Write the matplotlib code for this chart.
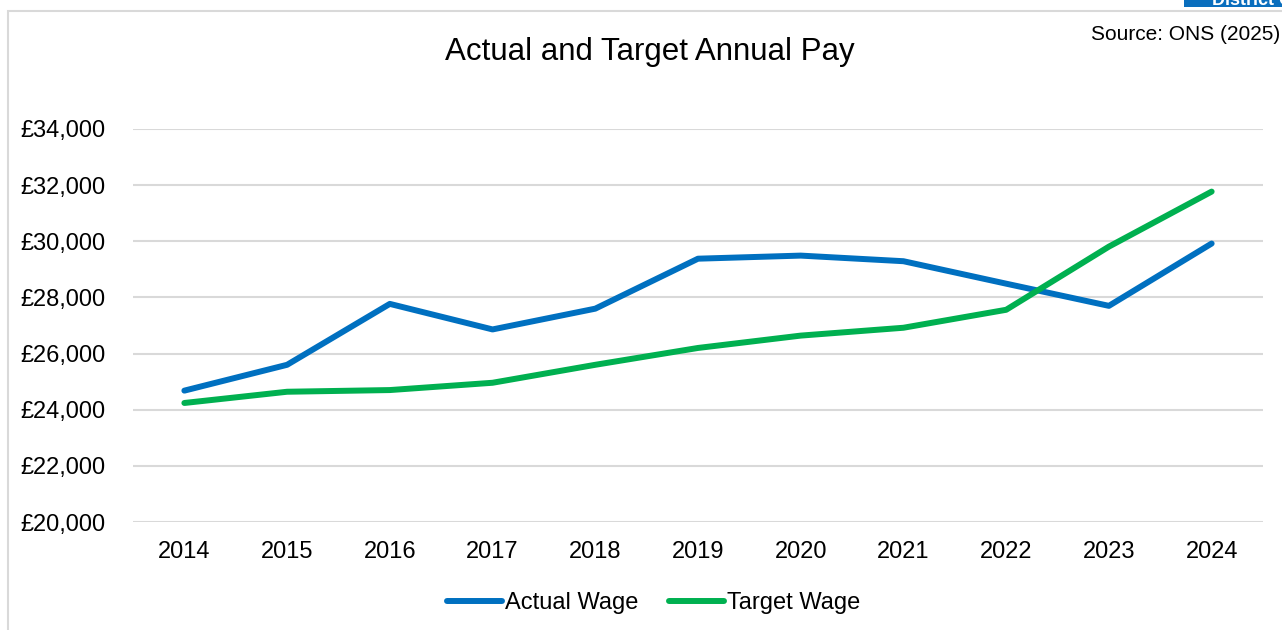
import matplotlib
matplotlib.use("Agg")
import matplotlib.pyplot as plt
from matplotlib.patches import Rectangle
from matplotlib.ticker import FuncFormatter

years = ["2014", "2015", "2016", "2017", "2018", "2019", "2020", "2021", "2022", "2023", "2024"]
actual_wage = [24680, 25600, 27770, 26860, 27600, 29380, 29490, 29290, 28490, 27700, 29920]
target_wage = [24240, 24640, 24700, 24960, 25600, 26200, 26640, 26920, 27560, 29810, 31770]
y_ticks = [20000, 22000, 24000, 26000, 28000, 30000, 32000, 34000]

plt.rcParams['font.family'] = ['Liberation Sans', 'DejaVu Sans']

W, H = 1282, 630
fig = plt.figure(figsize=(W / 100, H / 100), dpi=100)
fig.patch.set_facecolor("white")

# outer frame
fig.patches.append(Rectangle((8 / W, -0.01), 1.02, (H - 11) / H + 0.01, transform=fig.transFigure,
                             fill=False, edgecolor="#d9d9d9", linewidth=1.5, zorder=0))
# clipped header box at top right
fig.patches.append(Rectangle((1184 / W, (H - 7) / H), (W - 1184) / W + 0.01, 7 / H + 0.01,
                             transform=fig.transFigure, facecolor="#0a6ebd", edgecolor="none"))
fig.text(1212 / W, (H - 5) / H, "District C", color="white", fontsize=13, fontweight="bold",
         ha="left", va="baseline")

ax = fig.add_axes([133 / W, (H - 522) / H, 1130 / W, 393 / H])
x = list(range(len(years)))
ax.plot(x, actual_wage, color="#0070C0", linewidth=4.3, solid_capstyle="round",
        solid_joinstyle="round", label="Actual Wage", zorder=3)
ax.plot(x, target_wage, color="#00B050", linewidth=4.3, solid_capstyle="round",
        solid_joinstyle="round", label="Target Wage", zorder=3)

ax.set_xlim(-0.5, len(years) - 0.5)
ax.set_ylim(20000, 34000)
ax.set_yticks(y_ticks)
ax.yaxis.set_major_formatter(FuncFormatter(lambda v, p: "£{:,.0f}".format(v)))
ax.set_xticks(x)
ax.set_xticklabels(years)
ax.grid(axis="y", color="#d9d9d9", linewidth=1.5)
ax.set_axisbelow(True)
for s in ax.spines.values():
    s.set_visible(False)
ax.tick_params(axis="both", length=0, labelsize=17, colors="black")
ax.tick_params(axis="y", pad=20)
ax.tick_params(axis="x", pad=14)

fig.text(650 / W, (H - 52) / H, "Actual and Target Annual Pay", fontsize=22.5,
         ha="center", va="center")
fig.text(1280 / W, (H - 35) / H, "Source: ONS (2025)", fontsize=15, ha="right", va="center")

leg = fig.legend(loc="center", bbox_to_anchor=(654 / W, (H - 603) / H), ncol=2, frameon=False,
                 fontsize=17, handlelength=2.3, handletextpad=0.15, columnspacing=1.3)

fig.savefig("out.png", dpi=100)
